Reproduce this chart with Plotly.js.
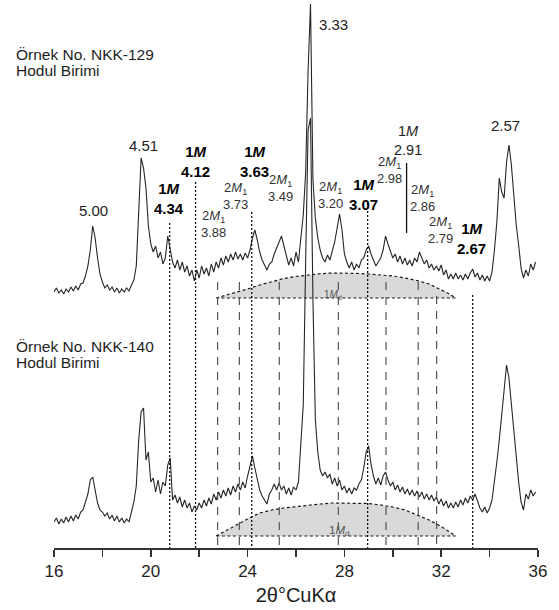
<!DOCTYPE html>
<html>
<head>
<meta charset="utf-8">
<script src="https://cdn.plot.ly/plotly-3.0.1.min.js"></script>
<style>
  html, body { margin: 0; padding: 0; background: #ffffff; }
  #chart { width: 559px; height: 610px; }
</style>
</head>
<body>
<div id="chart"></div>
<script>
// Powder XRD scans (Cu Kα), 2θ from 16° in 0.1° steps, arbitrary intensity units
const scanStart = 16.0;
const scanStep = 0.1;

// Sample NKK-129 (Hodul Birimi)
const nkk129 = [
  26, 30, 25, 28, 24, 29, 26, 31, 27, 32,
  28, 34, 35, 42, 52, 68, 92, 80, 60, 44,
  36, 30, 33, 28, 31, 26, 30, 25, 29, 26,
  30, 27, 33, 38, 52, 110, 160, 150, 130, 92,
  74, 66, 72, 60, 66, 54, 60, 82, 70, 56,
  50, 58, 48, 56, 46, 52, 42, 48, 37, 48,
  40, 52, 44, 50, 42, 54, 46, 56, 50, 60,
  53, 62, 56, 64, 58, 66, 59, 64, 58, 65,
  60, 68, 80, 88, 78, 66, 58, 52, 48, 54,
  56, 64, 70, 78, 82, 72, 62, 53, 60, 52,
  66, 56, 80, 103, 146, 248, 314, 138, 100, 80,
  68, 60, 56, 63, 58, 68, 76, 90, 104, 88,
  64, 56, 50, 56, 48, 54, 50, 58, 60, 68,
  72, 64, 58, 52, 56, 60, 68, 82, 74, 68,
  60, 64, 56, 62, 54, 60, 53, 58, 52, 60,
  56, 66, 60, 54, 58, 50, 54, 48, 52, 47,
  53, 43, 48, 39, 44, 39, 45, 39, 43, 38,
  44, 39, 45, 49, 41, 45, 38, 43, 37, 42,
  37, 46, 68, 96, 140, 126, 120, 156, 173, 153,
  123, 93, 73, 50, 40, 48, 42, 54, 48, 56
];

// Sample NKK-140 (Hodul Birimi)
const nkk140 = [
  26, 30, 24, 29, 25, 31, 26, 32, 27, 33,
  29, 36, 38, 45, 54, 68, 71, 58, 45, 38,
  36, 32, 35, 29, 33, 27, 32, 26, 30, 25,
  29, 26, 35, 46, 62, 108, 136, 140, 88, 96,
  66, 70, 56, 68, 54, 66, 62, 83, 90, 48,
  53, 45, 51, 41, 48, 40, 45, 36, 42, 38,
  45, 40, 48, 42, 50, 44, 54, 48, 56, 50,
  58, 52, 60, 53, 62, 56, 64, 58, 66, 60,
  72, 82, 92, 80, 68, 58, 52, 48, 44, 54,
  58, 64, 58, 65, 58, 62, 54, 60, 53, 61,
  58, 66, 100, 143, 288, 418, 430, 248, 128, 96,
  78, 72, 76, 70, 74, 64, 70, 62, 68, 58,
  62, 55, 60, 54, 60, 58, 64, 68, 80, 96,
  102, 84, 72, 64, 70, 63, 72, 76, 68, 62,
  66, 58, 63, 56, 61, 54, 59, 53, 58, 52,
  57, 51, 56, 49, 54, 48, 53, 47, 51, 44,
  49, 42, 47, 40, 45, 40, 46, 41, 48, 43,
  50, 45, 52, 48, 54, 46, 40, 36, 41, 35,
  40, 48, 66, 86, 108, 132, 158, 183, 170, 143,
  118, 86, 66, 46, 38, 54, 49, 58, 52, 56
];

// Diffuse 1Md hump under each scan (height above its own base)
const hump2Theta = [22.7, 23.0, 23.5, 24.0, 24.5, 25.0, 25.5, 26.0, 26.5, 27.0, 27.5,
                    28.0, 28.5, 29.0, 29.5, 30.0, 30.5, 31.0, 31.5, 32.0, 32.3, 32.6];
const humpNKK129 = [0, 2, 5.5, 9, 13, 16.5, 19.5, 21.5, 23, 24.3, 25,
                    25, 24.6, 24, 23, 22, 20, 17.5, 14, 8, 4.5, 0];
const humpNKK140 = [0, 4, 10, 17, 23, 26, 28, 29.5, 31, 32, 33,
                    33, 33, 32.5, 31, 29, 26, 21, 16, 9.5, 5, 0];
const humpBaseNKK129 = 20;
const humpBaseNKK140 = 12;

// Reflections (d-spacings in Å) and their 2θ positions
const peakD = ['5.00', '4.51', '3.33', '2.57'];
const peak2Theta = [17.63, 19.64, 26.56, 34.80];
const oneMD = ['4.34', '4.12', '3.63', '3.07', '2.67'];
const oneM2Theta = [20.78, 21.85, 24.17, 28.96, 33.30];
const twoM1D = ['3.88', '3.73', '3.49', '3.20', '2.98', '2.86', '2.79'];
const twoM12Theta = [22.76, 23.66, 25.31, 27.75, 29.72, 31.05, 31.81];
const oneMWeakD = '2.91';
const oneMWeak2Theta = 30.57;

// Axis ticks: labelled every 4°, minor ticks every 2°
const xTickVals = [16, 20, 24, 28, 32, 36];
const xTickText = ['16', '20', '24', '28', '32', '36'];

// ---- drawing ----
const upperOffset = 230;   // vertical stacking of the NKK-129 scan
const FONT = 'Liberation Sans, Arial, sans-serif';
const twoTheta = nkk129.map((_, i) => +(scanStart + i * scanStep).toFixed(2));

function humpTrace(base, heights, offset) {
  const xs = hump2Theta.concat(hump2Theta.slice().reverse());
  const ys = heights.map(h => base + h + offset)
    .concat(hump2Theta.map(() => base + offset));
  return {
    x: xs, y: ys, type: 'scatter', mode: 'lines', fill: 'toself',
    fillcolor: '#d9d9d9', hoverinfo: 'skip', showlegend: false,
    line: { color: '#1a1a1a', width: 1.2, dash: '3px,2.5px' }
  };
}

const traces = [
  humpTrace(humpBaseNKK129, humpNKK129, upperOffset),
  humpTrace(humpBaseNKK140, humpNKK140, 0),
  {
    x: twoTheta, y: nkk129.map(v => v + upperOffset), type: 'scatter', mode: 'lines',
    line: { color: '#262626', width: 1.1 }, showlegend: false
  },
  {
    x: twoTheta, y: nkk140, type: 'scatter', mode: 'lines',
    line: { color: '#262626', width: 1.1 }, showlegend: false
  }
];

// Reference lines: dotted for 1M, dashed for 2M1
const oneMTop = [325, 366, 336, 345, 253];
const twoM1Top = [266, 266, 266, 266, 266, 266, 252];
const shapes = [];
oneM2Theta.forEach((t, i) => shapes.push({
  type: 'line', xref: 'x', yref: 'y', x0: t, x1: t, y0: oneMTop[i], y1: 0,
  line: { color: '#111', width: 1.3, dash: '2px,2px' }
}));
twoM12Theta.forEach((t, i) => shapes.push({
  type: 'line', xref: 'x', yref: 'y', x0: t, x1: t, y0: twoM1Top[i], y1: 0,
  line: { color: '#555', width: 1.2, dash: '8px,7px' }
}));
shapes.push({
  type: 'line', xref: 'x', yref: 'y', x0: oneMWeak2Theta, x1: oneMWeak2Theta, y0: 385, y1: 315,
  line: { color: '#111', width: 1.3 }
});

const annotations = [];
function txt(x, y, text, size, color) {
  annotations.push({
    x: x, y: y, xref: 'x', yref: 'y', text: text, showarrow: false,
    xanchor: 'center', yanchor: 'middle',
    font: { family: FONT, size: size, color: color }
  });
}

// main peak labels
const peakLabelPos = [[17.65, 338], [19.68, 403], [27.55, 524], [34.64, 423]];
peakD.forEach((d, i) => txt(peakLabelPos[i][0], peakLabelPos[i][1], d, 15, '#1e1e1e'));

// 1M labels (bold, two lines)
const oneMLabelPos = [[20.75, 350], [21.83, 387], [24.28, 387], [28.80, 354], [33.27, 310]];
oneMD.forEach((d, i) => {
  const p = oneMLabelPos[i];
  txt(p[0], p[1], '<b>1<i>M</i><br>' + d + '</b>', 15, '#000');
});
txt(30.61, 408, '1<i>M</i><br>' + oneMWeakD, 14.5, '#1e1e1e');

// 2M1 labels (two lines)
const twoM1LabelPos = [[22.60, 324], [23.49, 352], [25.34, 360],
                       [27.43, 353], [29.86, 378], [31.23, 350], [31.99, 318]];
twoM1D.forEach((d, i) => {
  const p = twoM1LabelPos[i];
  txt(p[0], p[1], '2<i>M</i><sub>1</sub><br>' + d, 13, '#333');
});

// 1Md hump labels
txt(27.53, 253, '1<i>M</i><sub>d</sub>', 10, '#555');
txt(27.78, 17, '1<i>M</i><sub>d</sub>', 11.5, '#555');

// sample names
[['Örnek No. NKK-129', 494], ['Hodul Birimi', 478],
 ['Örnek No. NKK-140', 202], ['Hodul Birimi', 186]].forEach(s => {
  annotations.push({
    x: -0.0826, y: s[1], xref: 'paper', yref: 'y', text: s[0], showarrow: false,
    xanchor: 'left', yanchor: 'middle',
    font: { family: FONT, size: 15.5, color: '#1e1e1e' }
  });
});

const layout = {
  width: 559, height: 610,
  margin: { l: 54, r: 21, t: 0, b: 62 },
  paper_bgcolor: '#ffffff', plot_bgcolor: '#ffffff',
  font: { family: FONT, color: '#1e1e1e' },
  showlegend: false,
  xaxis: {
    range: [16, 36], showgrid: false, zeroline: false,
    showline: true, linecolor: '#333', linewidth: 1.6,
    ticks: 'outside', ticklen: 7, tickwidth: 1.6, tickcolor: '#333',
    tickvals: xTickVals, ticktext: xTickText,
    minor: { tickvals: [18, 22, 26, 30, 34], ticks: 'outside', ticklen: 7, tickwidth: 1.6, tickcolor: '#333', showgrid: false },
    tickfont: { family: FONT, size: 17, color: '#1e1e1e' },
    title: { text: '2θ°CuKα', font: { family: FONT, size: 20, color: '#1e1e1e' }, standoff: 8 }
  },
  yaxis: { range: [0, 548], visible: false, fixedrange: true },
  shapes: shapes,
  annotations: annotations
};

Plotly.newPlot('chart', traces, layout, { displayModeBar: false, staticPlot: true });
</script>
</body>
</html>
